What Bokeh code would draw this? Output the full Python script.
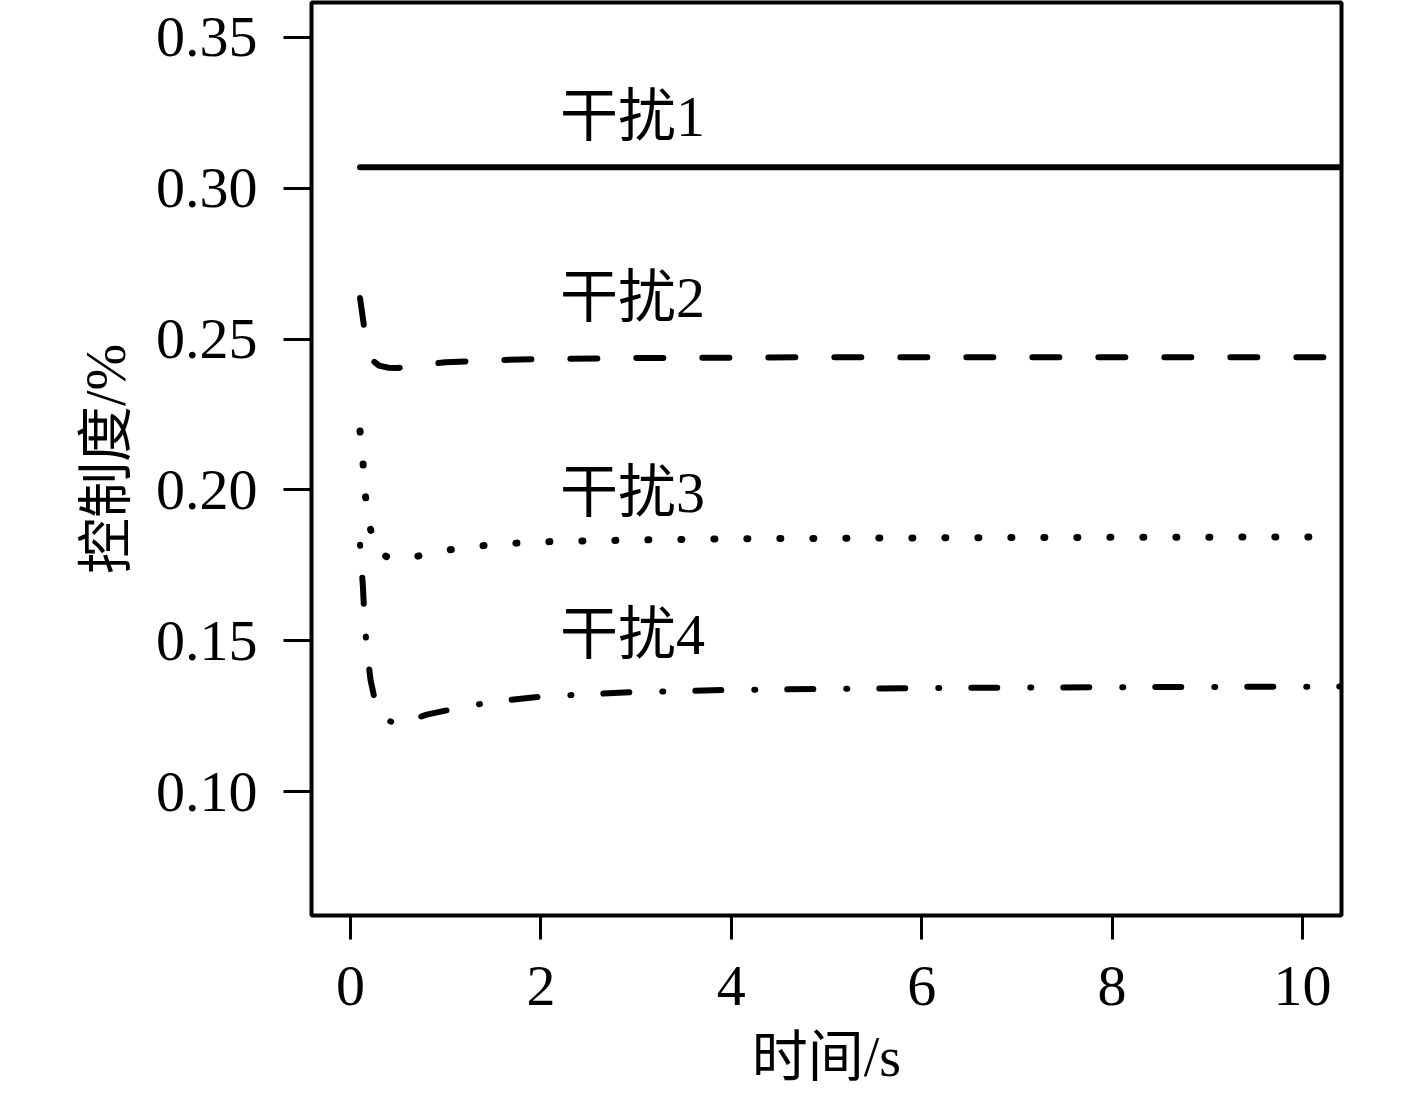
from bokeh.plotting import figure
from bokeh.models import Range1d, FixedTicker
from bokeh.core.properties import value
from bokeh.embed import file_html
from bokeh.resources import INLINE

# ---- data ----
t1 = [0.1, 10.4]
y1 = [0.307, 0.307]

t2 = [0.1, 0.14, 0.18, 0.23, 0.3, 0.4, 0.5, 0.7, 1.0, 1.5, 2.0, 3.0, 5.0, 10.4]
y2 = [0.2636, 0.2546, 0.2480, 0.2430, 0.2412, 0.2405, 0.2404, 0.2413, 0.2423,
      0.2430, 0.2434, 0.2437, 0.2440, 0.2440]

t3 = [0.1, 0.13, 0.15, 0.19, 0.27, 0.4, 0.55, 0.7, 0.9, 1.25, 1.6, 2.0, 3.0,
      4.0, 6.0, 8.0, 10.4]
y3 = [0.2195, 0.2096, 0.1997, 0.1894, 0.1798, 0.1775, 0.1771, 0.1780, 0.1795,
      0.1811, 0.1821, 0.1828, 0.1834, 0.1838, 0.1841, 0.1843, 0.1844]

t4 = [0.1, 0.13, 0.15, 0.18, 0.21, 0.28, 0.4, 0.5, 0.8, 1.1, 1.5, 2.0, 3.0,
      4.0, 6.0, 8.0, 10.4]
y4 = [0.1818, 0.1680, 0.1550, 0.1450, 0.1370, 0.1268, 0.1235, 0.1222, 0.1255,
      0.1275, 0.1298, 0.1315, 0.1330, 0.1337, 0.1343, 0.1346, 0.1348]

label_texts = ["干扰1", "干扰2", "干扰3", "干扰4"]
label_x = [2.2, 2.2, 2.2, 2.2]
label_y = [0.3238, 0.2639, 0.1990, 0.1520]

x_ticks = [0, 2, 4, 6, 8, 10]
x_tick_labels = ["0", "2", "4", "6", "8", "10"]
y_ticks = [0.10, 0.15, 0.20, 0.25, 0.30, 0.35]
y_tick_labels = ["0.10", "0.15", "0.20", "0.25", "0.30", "0.35"]

x_label = "时间/s"
y_label = "控制度/%"

FONT = "Liberation Serif, Noto Sans CJK SC"

p = figure(width=1409, height=1090, output_backend="svg", toolbar_location=None,
           x_range=Range1d(-0.41, 10.41), y_range=Range1d(0.0589, 0.3616),
           min_border_left=311, min_border_right=68, min_border_top=2,
           min_border_bottom=174)

p.background_fill_color = "white"
p.border_fill_color = "white"
p.outline_line_color = "black"
p.outline_line_width = 4
p.xgrid.visible = False
p.ygrid.visible = False

for ax in (p.xaxis[0], p.yaxis[0]):
    ax.axis_line_color = None
    ax.major_tick_line_color = "black"
    ax.major_tick_line_width = 3
    ax.major_tick_in = 0
    ax.minor_tick_line_color = None
    ax.major_label_text_font = FONT
    ax.major_label_text_color = "black"
    ax.axis_label_text_font = FONT
    ax.axis_label_text_font_style = "normal"
    ax.axis_label_text_color = "black"

p.xaxis.ticker = FixedTicker(ticks=x_ticks)
p.xaxis.major_label_overrides = dict(zip(x_ticks, x_tick_labels))
p.xaxis.major_tick_out = 24
p.xaxis.major_label_standoff = 27
p.xaxis.major_label_text_font_size = "58px"
p.xaxis.axis_label = x_label
p.xaxis.axis_label_text_font_size = "56px"
p.xaxis.axis_label_standoff = 18

p.yaxis.ticker = FixedTicker(ticks=y_ticks)
p.yaxis.major_label_overrides = dict(zip(y_ticks, y_tick_labels))
p.yaxis.major_tick_out = 28
p.yaxis.major_label_standoff = 26
p.yaxis.major_label_text_font_size = "58px"
p.yaxis.axis_label = y_label
p.yaxis.axis_label_text_font_size = "56px"
p.yaxis.axis_label_standoff = 16

lw = 6
p.line(t1, y1, line_color="black", line_width=lw, line_cap="round")
p.line(t2, y2, line_color="black", line_width=lw, line_cap="round",
       line_join="round", line_dash="27 39")
p.line(t3, y3, line_color="black", line_width=lw + 1, line_cap="round",
       line_join="round", line_dash="1 32")
p.line(t4, y4, line_color="black", line_width=lw, line_cap="round",
       line_join="round", line_dash="1 32 26 33")

p.text(x=label_x, y=label_y, text=label_texts, text_font=value(FONT),
       text_font_size="58px", text_baseline="middle", text_align="left",
       text_color="black")

open("out.html", "w").write(file_html(p, INLINE))
